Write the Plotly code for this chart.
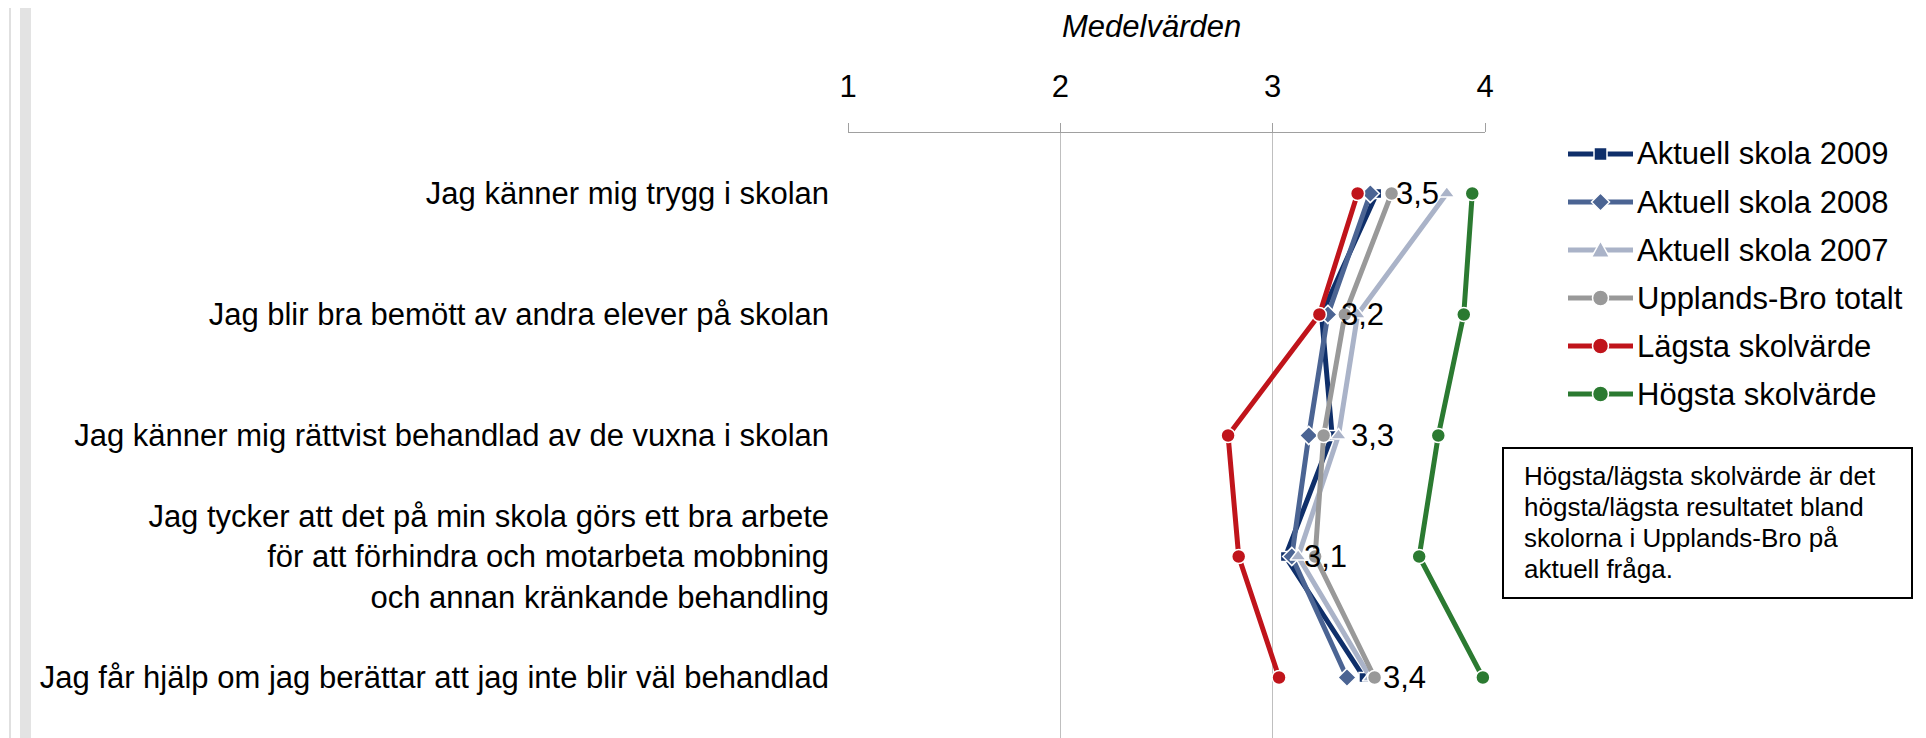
import plotly.graph_objects as go

categories = [
    "Jag känner mig trygg i skolan",
    "Jag blir bra bemött av andra elever på skolan",
    "Jag känner mig rättvist behandlad av de vuxna i skolan",
    "Jag tycker att det på min skola görs ett bra arbete<br>för att förhindra och motarbeta mobbning<br>och annan kränkande behandling",
    "Jag får hjälp om jag berättar att jag inte blir väl behandlad",
]

skola_2009 = [3.49, 3.23, 3.28, 3.06, 3.43]
skola_2008 = [3.46, 3.26, 3.17, 3.09, 3.35]
skola_2007 = [3.82, 3.40, 3.31, 3.12, 3.46]
upplands_bro = [3.56, 3.34, 3.24, 3.20, 3.48]
lagsta = [3.40, 3.22, 2.79, 2.84, 3.03]
hogsta = [3.94, 3.90, 3.78, 3.69, 3.99]

x_ticks = [1, 2, 3, 4]

series_names = ["Aktuell skola 2009", "Aktuell skola 2008", "Aktuell skola 2007",
                "Upplands-Bro totalt", "Lägsta skolvärde", "Högsta skolvärde"]
series_values = [skola_2009, skola_2008, skola_2007, upplands_bro, lagsta, hogsta]
colors = ["#0f2f6a", "#4b6493", "#aab3c8", "#999999", "#c0141b", "#2b7a31"]
symbols = ["square", "diamond", "triangle-up", "circle", "circle", "circle"]
msizes = [10, 14, 14, 14, 14, 14]

note_lines = ["Högsta/lägsta skolvärde är det", "högsta/lägsta resultatet bland",
              "skolorna i Upplands-Bro på", "aktuell fråga."]

# the page body has an 8px margin: the figure starts at (8, 8) of the window
OFF = 8
WIN_W, WIN_H = 1926, 738
W, H = WIN_W - OFF, WIN_H - OFF
PLOT_LEFT, PLOT_RIGHT, PLOT_TOP = 848, 1485, 133   # window pixels
L, T, B = PLOT_LEFT - OFF, PLOT_TOP - OFF, 0
R = WIN_W - PLOT_RIGHT
PW, PH = W - L - R, H - T - B
FONT = "Arial, Liberation Sans, sans-serif"


def px_x(px):
    return (px - OFF - L) / PW


def px_y(py):
    return (H - B - (py - OFF)) / PH


fig = go.Figure()
for i, (name, vals) in enumerate(zip(series_names, series_values)):
    fig.add_trace(go.Scatter(
        x=vals, y=categories, name=name, mode="lines+markers",
        line=dict(color=colors[i], width=5),
        marker=dict(symbol=symbols[i], size=msizes[i], color=colors[i],
                    line=dict(color="white", width=1.5)),
        cliponaxis=False, showlegend=False,
    ))

# data labels for Aktuell skola 2009
for v, c in zip(skola_2009, categories):
    fig.add_annotation(x=v, y=c, xref="x", yref="y", text=f"{v:.1f}".replace(".", ","),
                       showarrow=False, xanchor="left", yanchor="middle", xshift=17,
                       font=dict(size=31, color="black", family=FONT))

# axis title
fig.add_annotation(x=px_x(1151), y=1.0, yref="paper", xref="paper",
                   yshift=T, text="<i>Medelvärden</i>", showarrow=False,
                   xanchor="center", yanchor="top", borderpad=0,
                   font=dict(size=31, color="black", family=FONT))

# custom legend (long line symbols like the original)
LEG_X0, LEG_X1, LEG_TX, LEG_Y0, LEG_DY = 1568, 1633, 1635, 154, 48
for i, name in enumerate(series_names):
    yc = LEG_Y0 + LEG_DY * i
    cx = (LEG_X0 + LEG_X1) / 2
    fig.add_shape(type="line", xref="paper", yref="paper",
                  x0=px_x(LEG_X0), x1=px_x(LEG_X1), y0=px_y(yc), y1=px_y(yc),
                  line=dict(color=colors[i], width=5))
    sym = symbols[i]
    mk = dict(xref="paper", yref="paper", fillcolor=colors[i],
              line=dict(color="white", width=1.5))
    if sym == "circle":
        r = 8
        fig.add_shape(type="circle", x0=px_x(cx - r), x1=px_x(cx + r),
                      y0=px_y(yc + r), y1=px_y(yc - r), **mk)
    elif sym == "square":
        r = 6.5
        fig.add_shape(type="rect", x0=px_x(cx - r), x1=px_x(cx + r),
                      y0=px_y(yc + r), y1=px_y(yc - r), **mk)
    elif sym == "diamond":
        r = 9
        pts = [(cx, yc - r), (cx + r, yc), (cx, yc + r), (cx - r, yc)]
        path = "M " + " L ".join(f"{px_x(a)},{px_y(b)}" for a, b in pts) + " Z"
        fig.add_shape(type="path", path=path, **mk)
    else:
        r = 9
        pts = [(cx, yc - r), (cx + r, yc + r * 0.8), (cx - r, yc + r * 0.8)]
        path = "M " + " L ".join(f"{px_x(a)},{px_y(b)}" for a, b in pts) + " Z"
        fig.add_shape(type="path", path=path, **mk)
    fig.add_annotation(x=px_x(LEG_TX), y=px_y(yc), xref="paper", yref="paper",
                       text=name, showarrow=False, xanchor="left", yanchor="middle",
                       font=dict(size=31, color="black", family=FONT))

# note box
fig.add_shape(type="rect", xref="paper", yref="paper",
              x0=px_x(1503), x1=px_x(1912), y0=px_y(598), y1=px_y(448),
              line=dict(color="black", width=2), fillcolor="white", layer="below")
for k, line in enumerate(note_lines):
    fig.add_annotation(x=px_x(1522), y=px_y(476 + 31 * k), xref="paper", yref="paper",
                       text=line, showarrow=False, xanchor="left", yanchor="middle",
                       align="left", font=dict(size=26, color="black", family=FONT))

# light ruler strip at the far left (as in the original screenshot)
fig.add_shape(type="rect", xref="paper", yref="paper",
              x0=px_x(20), x1=px_x(31), y0=0, y1=px_y(OFF),
              line=dict(width=0), fillcolor="#e3e3e3", layer="below")
fig.add_shape(type="line", xref="paper", yref="paper",
              x0=px_x(10), x1=px_x(10), y0=0, y1=px_y(OFF),
              line=dict(color="#e0e0e0", width=2), layer="below")

fig.update_layout(
    width=W, height=H,
    margin=dict(l=L, r=R, t=T, b=B, pad=0),
    paper_bgcolor="white", plot_bgcolor="white",
    font=dict(family=FONT, size=31, color="black"),
    xaxis=dict(range=[1, 4], side="top", tickvals=x_ticks, ticktext=[str(t) for t in x_ticks],
               showgrid=True, gridcolor="#bfbfbf", gridwidth=1,
               showline=True, linecolor="#a0a0a0", linewidth=1,
               ticks="outside", ticklen=9, tickcolor="#a0a0a0",
               tickfont=dict(size=31), zeroline=False, ticklabelstandoff=14,
               automargin=False),
    yaxis=dict(type="category", categoryarray=categories, range=[4.5, -0.5],
               showgrid=False, zeroline=False, showline=False,
               ticks="", tickfont=dict(size=31), ticklabelstandoff=18,
               automargin=False),
    showlegend=False,
)

fig.write_html("out.html")
